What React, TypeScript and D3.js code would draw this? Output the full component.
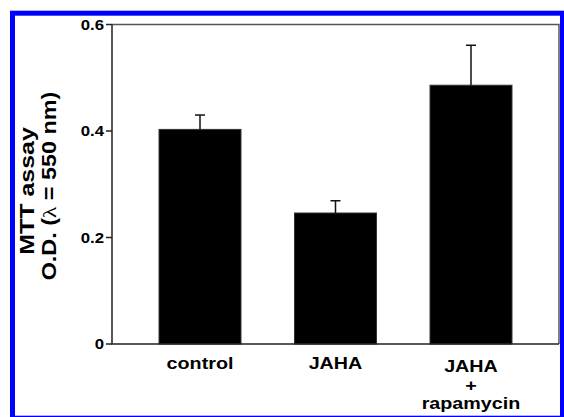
import { useEffect, useRef } from 'react'
import * as d3 from 'd3'

// values
const categories = ['control', 'JAHA', 'JAHA + rapamycin']
const labelLines = [['control'], ['JAHA'], ['JAHA', '+', 'rapamycin']]
const means = [0.403, 0.246, 0.486]
const errors = [0.027, 0.023, 0.075]
const yTicks = [0, 0.2, 0.4, 0.6]
const yTickLabels = ['0', '0.2', '0.4', '0.6']

export default function App() {
    const svgRef = useRef<SVGSVGElement>(null)

    useEffect(() => {
        if (!svgRef.current) return
        const width = 564
        const height = 417
        const left = 112
        const right = 559
        const top = 24.5
        const bottom = 344
        const font = '"Liberation Sans", Arial, sans-serif'
        const stretch = 1.2

        const data = categories.map((c, i) => ({ key: c, value: means[i], err: errors[i], lines: labelLines[i] }))

        const x = d3.scaleBand()
            .domain(categories)
            .range([left, right])
            .paddingInner(0.395)
            .paddingOuter(0.347)
        const y = d3.scaleLinear()
            .domain([0, 0.6])
            .range([bottom, top])

        const svg = d3.select(svgRef.current)
        svg.selectAll('*').remove()
        svg.attr('width', width).attr('height', height)

        svg.append('rect')
            .attr('width', width)
            .attr('height', height)
            .attr('fill', 'white')

        // blue outer border
        svg.append('rect')
            .attr('x', 12.5)
            .attr('y', 13.2)
            .attr('width', 550)
            .attr('height', 405)
            .attr('fill', 'none')
            .attr('stroke', '#0000ff')
            .attr('stroke-width', 5)

        // frame top + right
        svg.append('path')
            .attr('d', `M${left},${y(0.6)}H${right}V${y(0)}`)
            .attr('fill', 'none')
            .attr('stroke', '#555')
            .attr('stroke-width', 1.5)

        // bars
        svg.append('g')
            .selectAll('rect')
            .data(data)
            .join('rect')
            .attr('x', (d) => x(d.key)!)
            .attr('y', (d) => y(d.value))
            .attr('width', x.bandwidth())
            .attr('height', (d) => y(0) - y(d.value))
            .attr('fill', '#000')
            .attr('stroke', '#333')
            .attr('stroke-width', 1)

        // error bars (upper only)
        const eb = svg.append('g')
            .attr('stroke', '#111')
            .attr('stroke-width', 1.5)
        eb.selectAll('line.v')
            .data(data)
            .join('line')
            .attr('class', 'v')
            .attr('x1', (d) => x(d.key)! + x.bandwidth() / 2)
            .attr('x2', (d) => x(d.key)! + x.bandwidth() / 2)
            .attr('y1', (d) => y(d.value))
            .attr('y2', (d) => y(d.value + d.err))
        eb.selectAll('line.cap')
            .data(data)
            .join('line')
            .attr('class', 'cap')
            .attr('x1', (d) => x(d.key)! + x.bandwidth() / 2 - 5)
            .attr('x2', (d) => x(d.key)! + x.bandwidth() / 2 + 5)
            .attr('y1', (d) => y(d.value + d.err))
            .attr('y2', (d) => y(d.value + d.err))

        // axes lines
        svg.append('path')
            .attr('d', `M${left},${y(0.6)}V${y(0)}H${right}`)
            .attr('fill', 'none')
            .attr('stroke', '#222')
            .attr('stroke-width', 1.5)

        // y ticks
        const yt = svg.append('g')
        yt.selectAll('line')
            .data(yTicks)
            .join('line')
            .attr('x1', left - 6)
            .attr('x2', left)
            .attr('y1', (d) => y(d))
            .attr('y2', (d) => y(d))
            .attr('stroke', '#222')
            .attr('stroke-width', 1.5)
        yt.selectAll('text')
            .data(yTicks)
            .join('text')
            .attr('transform', (d) => `translate(${left - 8},${y(d) + 5}) scale(${stretch},1)`)
            .attr('text-anchor', 'end')
            .style('font-family', font)
            .style('font-weight', 'bold')
            .style('font-size', '14px')
            .text((d, i) => yTickLabels[i])

        // x labels
        const xl = svg.append('g')
        data.forEach((d) => {
            const cx = x(d.key)! + x.bandwidth() / 2
            const base = d.lines.length > 1 ? 372 : 369
            d.lines.forEach((line, j) => {
                xl.append('text')
                    .attr('transform', `translate(${cx},${base + j * 18.5}) scale(1.16,1)`)
                    .attr('text-anchor', 'middle')
                    .style('font-family', font)
                    .style('font-weight', 'bold')
                    .style('font-size', '17px')
                    .text(line)
            })
        })

        // y axis title
        svg.append('text')
            .attr('transform', `translate(34,191) rotate(-90) scale(1.28,1)`)
            .attr('text-anchor', 'middle')
            .style('font-family', font)
            .style('font-weight', 'bold')
            .style('font-size', '19.5px')
            .text('MTT assay')
        const t2 = svg.append('text')
            .attr('transform', `translate(56,186) rotate(-90) scale(1.2,1)`)
            .attr('text-anchor', 'middle')
            .style('font-family', font)
            .style('font-weight', 'bold')
            .style('font-size', '19.5px')
        t2.append('tspan').text('O.D. (')
        t2.append('tspan')
            .style('font-family', '"Liberation Serif", serif')
            .style('font-weight', 'normal')
            .text('λ')
        t2.append('tspan').text(' = 550 nm)')
    }, [])

    return (
        <div style={{ position: 'absolute', left: 0, top: 0 }}>
            <svg ref={svgRef}></svg>
        </div>
    )
}
